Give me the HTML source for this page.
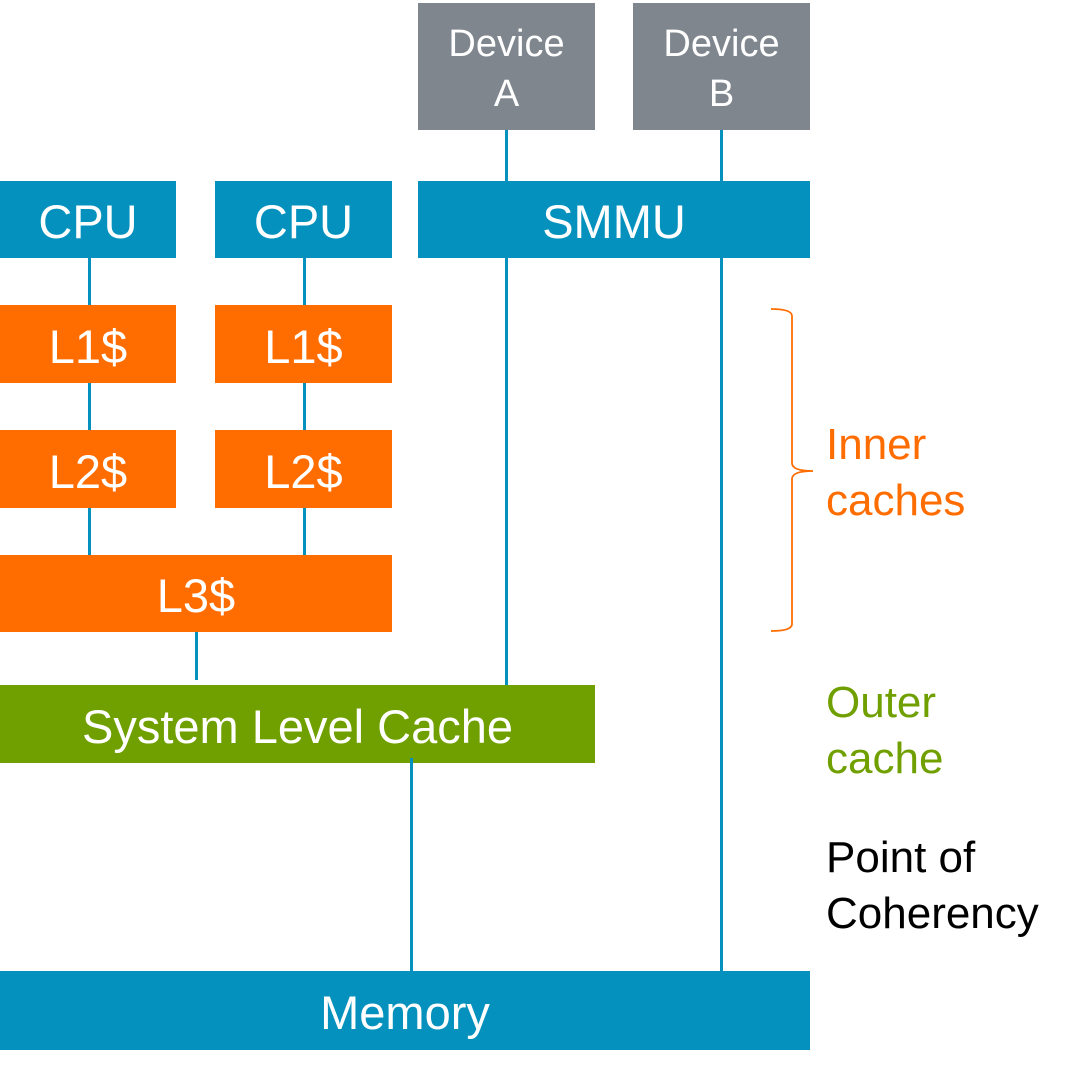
<!DOCTYPE html>
<html><head><meta charset="utf-8"><style>
html,body{margin:0;padding:0;background:#fff;}
body{width:1080px;height:1082px;position:relative;overflow:hidden;font-family:"Liberation Sans",sans-serif;}
.b{position:absolute;color:#fff;display:flex;align-items:center;justify-content:center;text-align:center;font-size:47px;padding-top:4px;box-sizing:border-box;}
.blue{background:#0591bd;}
.or{background:#ff6d00;}
.gr{background:#70a000;}
.gy{background:#7f868e;font-size:38px;line-height:50px;}
.l{position:absolute;width:3px;background:#0591bd;}
.t{position:absolute;font-size:44px;line-height:56px;}
</style></head><body>
<div class="b gy" style="left:418px;top:3px;width:177px;height:127px;">Device<br>A</div>
<div class="b gy" style="left:633px;top:3px;width:177px;height:127px;">Device<br>B</div>
<div class="l" style="left:505px;top:130px;height:51px;"></div>
<div class="l" style="left:720px;top:130px;height:51px;"></div>
<div class="b blue" style="left:0;top:181px;width:176px;height:77px;">CPU</div>
<div class="b blue" style="left:215px;top:181px;width:177px;height:77px;">CPU</div>
<div class="b blue" style="left:418px;top:181px;width:392px;height:77px;">SMMU</div>
<div class="l" style="left:88px;top:258px;height:297px;"></div>
<div class="l" style="left:303px;top:258px;height:297px;"></div>
<div class="l" style="left:505px;top:258px;height:427px;"></div>
<div class="l" style="left:720px;top:258px;height:713px;"></div>
<div class="b or" style="left:0;top:305px;width:176px;height:78px;">L1$</div>
<div class="b or" style="left:215px;top:305px;width:177px;height:78px;">L1$</div>
<div class="b or" style="left:0;top:430px;width:176px;height:78px;">L2$</div>
<div class="b or" style="left:215px;top:430px;width:177px;height:78px;">L2$</div>
<div class="b or" style="left:0;top:555px;width:392px;height:77px;">L3$</div>
<div class="l" style="left:195px;top:632px;height:48px;"></div>
<div class="b gr" style="left:0;top:685px;width:595px;height:78px;">System Level Cache</div>
<div class="l" style="left:410px;top:758px;height:213px;"></div>
<div class="b blue" style="left:0;top:971px;width:810px;height:79px;">Memory</div>
<svg style="position:absolute;left:0;top:0" width="1080" height="1082">
<path d="M771 309 Q792 309 792 316 L792 463 Q792 471 813 471 Q792 471 792 479 L792 624 Q792 631 771 631" fill="none" stroke="#ff6d00" stroke-width="1.8"/>
</svg>
<div class="t" style="left:826px;top:417px;color:#ff6d00;">Inner<br>caches</div>
<div class="t" style="left:826px;top:675px;color:#70a000;">Outer<br>cache</div>
<div class="t" style="left:826px;top:830px;color:#000;">Point of<br>Coherency</div>
</body></html>
